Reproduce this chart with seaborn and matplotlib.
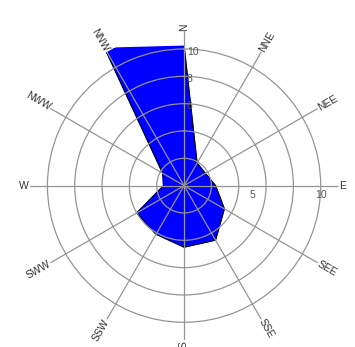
import matplotlib
matplotlib.use('Agg')
import matplotlib.pyplot as plt
import numpy as np
import seaborn as sns

# Wind directions (compass order, clockwise from north) and values
directions = ['N', 'NNE', 'NEE', 'E', 'SEE', 'SSE', 'S', 'SSW', 'SWW', 'W', 'NWW', 'NNW']
compass_deg = [0, 30, 60, 90, 120, 150, 180, 210, 240, 270, 300, 330]
values = [10.2, 1.9, 1.8, 2.3, 3.4, 4.6, 4.5, 4.1, 4.0, 1.5, 1.8, 11.6]

ring_values = [2, 4, 6, 8, 10]
north_ticks = [6, 8, 10]
east_ticks = [5, 10]
r_max = 11.3

sns.set_theme(style='white')
plt.rcParams['font.family'] = ['Liberation Sans', 'DejaVu Sans']

fig = plt.figure(figsize=(3.55, 3.47), dpi=100)
ax = fig.add_axes([0.076, 0.02, 0.885, 0.89], projection='polar')
ax.set_theta_zero_location('N')
ax.set_theta_direction(-1)

theta = np.deg2rad(compass_deg + [compass_deg[0]])
r = values + [values[0]]
ax.fill(theta, r, color='#0000ff', zorder=1)
sns.lineplot(x=theta, y=r, sort=False, color='black', lw=0.7, ax=ax, zorder=1.2)

ax.set_ylim(0, r_max)
ax.set_rgrids(ring_values, labels=[''] * len(ring_values))
ax.set_thetagrids(compass_deg, labels=[''] * len(compass_deg))
ax.grid(True, color='#959595', lw=0.9)
ax.set_axisbelow(False)
ax.spines['polar'].set_visible(False)
ax.set_facecolor('white')
ax.set_xlabel('')
ax.set_ylabel('')

# direction labels at the ends of the spokes, rotated along them
for name, c in zip(directions, compass_deg):
    a = (90 - c) % 360
    if a > 90 and a <= 270:
        rot, ha = a - 180, 'right'
    else:
        rot, ha = (a if a <= 90 else a - 360), 'left'
    ax.text(np.deg2rad(c), r_max + 0.05, name, rotation=rot, rotation_mode='anchor',
            ha=ha, va='center', fontsize=7.5, color='#333333')

# radial tick labels
for v in north_ticks:
    ax.annotate(str(v), xy=(0, v), xytext=(2, -2), textcoords='offset points',
                ha='left', va='center', fontsize=7.5, color='#555555')
for v in east_ticks:
    ax.annotate(str(v), xy=(np.pi / 2, v), xytext=(0, -3), textcoords='offset points',
                ha='center', va='top', fontsize=7.5, color='#555555')

plt.savefig('out.png', dpi=100)
